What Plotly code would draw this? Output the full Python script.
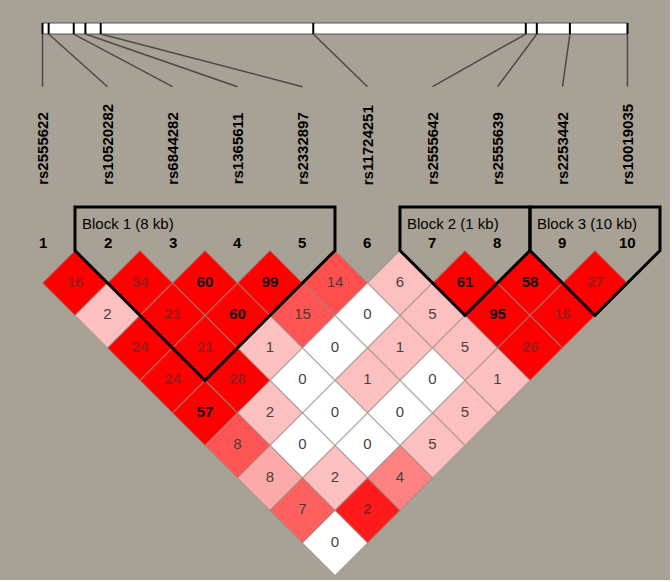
import plotly.graph_objects as go

# ---------------- data ----------------
snp_ids = ["rs2555622", "rs10520282", "rs6844282", "rs1365611", "rs2332897",
           "rs11724251", "rs2555642", "rs2555639", "rs2253442", "rs10019035"]
snp_numbers = [1, 2, 3, 4, 5, 6, 7, 8, 9, 10]
# physical positions (kb, relative)
snp_pos_kb = [0.0, 1.0, 5.1, 7.0, 9.5, 44.2, 78.9, 80.7, 86.1, 95.5]

# pairwise LD values (x100); row d holds pairs (i, i+d) for i = 1, 2, ...
ld_values = [
    [16, 34, 60, 99, 14, 6, 61, 58, 27],
    [2, 21, 60, 15, 0, 5, 95, 16],
    [24, 21, 1, 0, 1, 5, 26],
    [24, 28, 0, 1, 0, 1],
    [57, 2, 0, 0, 5],
    [8, 0, 0, 5],
    [8, 2, 4],
    [7, 2],
    [0],
]
# LD strength shown by the cell colour (0 = white, 1 = full red)
ld_shade = [
    [1, 1, 1, 1, 0.65, 0.15, 1, 1, 1],
    [0.15, 1, 1, 0.63, 0, 0.15, 1, 1],
    [1, 1, 0.15, 0, 0.15, 0.15, 1],
    [1, 1, 0, 0.15, 0, 0.15],
    [1, 0.15, 0, 0, 0.15],
    [0.63, 0, 0, 0.15],
    [0.25, 0.15, 0.42],
    [0.58, 0.88],
    [0],
]

block_labels = ["Block 1 (8 kb)", "Block 2 (1 kb)", "Block 3 (10 kb)"]
block_start = [2, 7, 9]
block_end = [5, 8, 10]

# ---------------- styling helpers ----------------
BG = "#A8A296"
PINK = (252, 192, 192)


def shade_color(t):
    if t <= 0:
        return "rgb(255,255,255)"
    if t <= 0.15:
        return "rgb(%d,%d,%d)" % PINK
    f = (t - 0.15) / 0.85
    r = PINK[0] + (255 - PINK[0]) * f
    g = PINK[1] * (1 - f)
    b = PINK[2] * (1 - f)
    return "rgb(%d,%d,%d)" % (round(r), round(g), round(b))


n = len(snp_ids)
kb_min, kb_max = min(snp_pos_kb), max(snp_pos_kb)


def bar_x(kb):
    return 1 + (n - 1) * (kb - kb_min) / (kb_max - kb_min)


BAR_TOP, BAR_BOT = -3.50, -3.33
CONN_END = -2.52
LABEL_BOTTOM = -0.98
NUM_Y = -0.12
BLOCK_TOP = -0.67

shapes = []
annotations = []

# top bar
shapes.append(dict(type="rect", xref="x", yref="y",
                   x0=bar_x(kb_min), x1=bar_x(kb_max), y0=BAR_TOP, y1=BAR_BOT,
                   fillcolor="white", line=dict(color="#505050", width=1)))
for i, p in enumerate(snp_pos_kb):
    bx = bar_x(p)
    shapes.append(dict(type="line", xref="x", yref="y", x0=bx, x1=bx,
                       y0=BAR_TOP, y1=BAR_BOT, line=dict(color="black", width=2)))
    shapes.append(dict(type="line", xref="x", yref="y", x0=bx, x1=i + 1,
                       y0=BAR_BOT, y1=CONN_END, line=dict(color="#4a4a4a", width=1.5)))
    annotations.append(dict(x=i + 1, y=LABEL_BOTTOM, xref="x", yref="y",
                            text="<b>%s</b>" % snp_ids[i], textangle=-90,
                            showarrow=False, xanchor="center", yanchor="bottom",
                            font=dict(family="Arial", size=15, color="black")))
    annotations.append(dict(x=i + 1, y=NUM_Y, xref="x", yref="y",
                            text="<b>%d</b>" % snp_numbers[i], showarrow=False,
                            xanchor="center", yanchor="middle",
                            font=dict(family="Arial", size=15, color="black")))

# LD diamonds
tx, ty, tt, tc = [], [], [], []
for d, row in enumerate(ld_values, start=1):
    for k, v in enumerate(row):
        i = k + 1
        j = i + d
        cx = (i + j) / 2
        cy = d / 2
        t = ld_shade[d - 1][k]
        path = "M %f %f L %f %f L %f %f L %f %f Z" % (
            cx, cy - 0.5, cx + 0.5, cy, cx, cy + 0.5, cx - 0.5, cy)
        shapes.append(dict(type="path", xref="x", yref="y", path=path,
                           fillcolor=shade_color(t), layer="below",
                           line=dict(color="rgba(150,140,130,0.55)", width=1.2)))
        tx.append(cx)
        ty.append(cy)
        if t >= 0.85 and v >= 50:
            tt.append("<b>%d</b>" % v)
            tc.append("#111111")
        elif t >= 0.85:
            tt.append("<b>%d</b>" % v)
            tc.append("#9a1c1c")
        else:
            tt.append("%d" % v)
            tc.append("#4a3f3f")

# block outlines
for lab, a, b in zip(block_labels, block_start, block_end):
    path = "M %f %f L %f %f L %f %f L %f %f L %f %f" % (
        a - 0.5, BLOCK_TOP, a - 0.5, 0, (a + b) / 2, (b - a + 1) / 2,
        b + 0.5, 0, b + 0.5, BLOCK_TOP)
    shapes.append(dict(type="path", xref="x", yref="y", path=path + " Z",
                       line=dict(color="black", width=3), fillcolor="rgba(0,0,0,0)"))
    annotations.append(dict(x=a - 0.5 + 0.08, y=BLOCK_TOP + 0.25, xref="x", yref="y",
                            text=lab, showarrow=False, xanchor="left", yanchor="middle",
                            font=dict(family="Arial", size=15, color="black")))

# thin white frame on right/bottom edges
shapes.append(dict(type="line", xref="paper", yref="paper", x0=0, x1=1, y0=0, y1=0,
                   line=dict(color="white", width=4)))
shapes.append(dict(type="line", xref="paper", yref="paper", x0=1, x1=1, y0=0, y1=1,
                   line=dict(color="white", width=4)))

fig = go.Figure()
fig.add_trace(go.Scatter(x=tx, y=ty, mode="text", text=tt,
                         textfont=dict(family="Arial", size=15, color=tc),
                         hoverinfo="skip", showlegend=False))

fig.update_layout(
    width=672, height=582,
    margin=dict(l=0, r=0, t=0, b=0),
    paper_bgcolor=BG, plot_bgcolor=BG,
    shapes=shapes, annotations=annotations,
    xaxis=dict(range=[0.346, 10.685], visible=False, fixedrange=True),
    yaxis=dict(range=[5.1, -3.854], visible=False, fixedrange=True),
    showlegend=False,
)
fig.write_html("out.html", config={"displayModeBar": False},
               post_script="document.body.style.margin='0';document.body.style.overflow='hidden';")
